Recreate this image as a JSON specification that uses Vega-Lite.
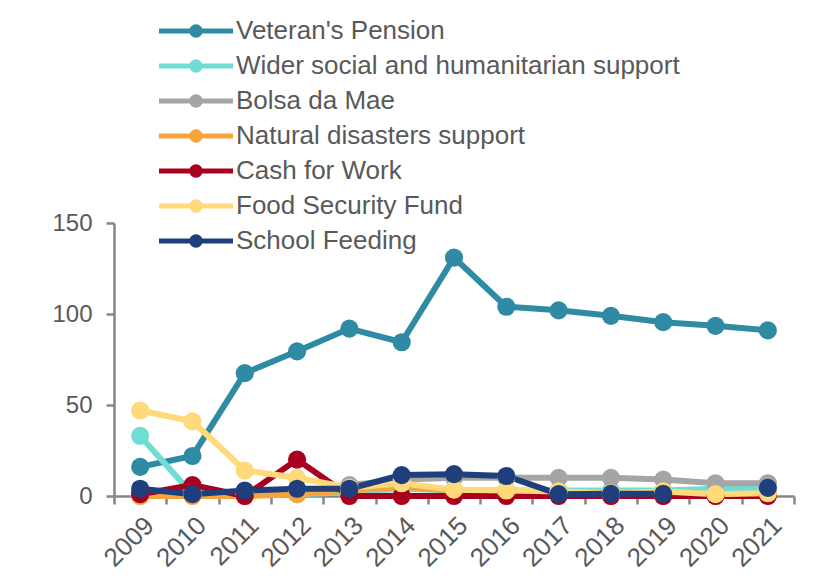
{
  "$schema": "https://vega.github.io/schema/vega-lite/v6.json",
  "width": 680,
  "height": 273,
  "autosize": "none",
  "padding": {"left": 114, "top": 223, "right": 19, "bottom": 82},
  "background": "white",
  "config": {
    "view": {"stroke": null},
    "font": "Liberation Sans"
  },
  "data": {
    "values": [
      {"year": "2009", "series": "Veteran's Pension", "value": 16},
      {"year": "2010", "series": "Veteran's Pension", "value": 22},
      {"year": "2011", "series": "Veteran's Pension", "value": 67.5},
      {"year": "2012", "series": "Veteran's Pension", "value": 79.5},
      {"year": "2013", "series": "Veteran's Pension", "value": 92},
      {"year": "2014", "series": "Veteran's Pension", "value": 84.5},
      {"year": "2015", "series": "Veteran's Pension", "value": 131},
      {"year": "2016", "series": "Veteran's Pension", "value": 104},
      {"year": "2017", "series": "Veteran's Pension", "value": 102},
      {"year": "2018", "series": "Veteran's Pension", "value": 99},
      {"year": "2019", "series": "Veteran's Pension", "value": 95.5},
      {"year": "2020", "series": "Veteran's Pension", "value": 93.5},
      {"year": "2021", "series": "Veteran's Pension", "value": 91},
      {"year": "2009", "series": "Wider social and humanitarian support", "value": 33},
      {"year": "2010", "series": "Wider social and humanitarian support", "value": 1},
      {"year": "2011", "series": "Wider social and humanitarian support", "value": 1},
      {"year": "2012", "series": "Wider social and humanitarian support", "value": 1},
      {"year": "2013", "series": "Wider social and humanitarian support", "value": 2},
      {"year": "2014", "series": "Wider social and humanitarian support", "value": 4},
      {"year": "2015", "series": "Wider social and humanitarian support", "value": 3},
      {"year": "2016", "series": "Wider social and humanitarian support", "value": 3},
      {"year": "2017", "series": "Wider social and humanitarian support", "value": 3},
      {"year": "2018", "series": "Wider social and humanitarian support", "value": 3},
      {"year": "2019", "series": "Wider social and humanitarian support", "value": 3},
      {"year": "2020", "series": "Wider social and humanitarian support", "value": 4},
      {"year": "2021", "series": "Wider social and humanitarian support", "value": 4},
      {"year": "2009", "series": "Bolsa da Mae", "value": 1},
      {"year": "2010", "series": "Bolsa da Mae", "value": 1},
      {"year": "2011", "series": "Bolsa da Mae", "value": 1},
      {"year": "2012", "series": "Bolsa da Mae", "value": 2},
      {"year": "2013", "series": "Bolsa da Mae", "value": 6},
      {"year": "2014", "series": "Bolsa da Mae", "value": 9},
      {"year": "2015", "series": "Bolsa da Mae", "value": 10},
      {"year": "2016", "series": "Bolsa da Mae", "value": 10},
      {"year": "2017", "series": "Bolsa da Mae", "value": 10},
      {"year": "2018", "series": "Bolsa da Mae", "value": 10},
      {"year": "2019", "series": "Bolsa da Mae", "value": 9},
      {"year": "2020", "series": "Bolsa da Mae", "value": 7},
      {"year": "2021", "series": "Bolsa da Mae", "value": 7},
      {"year": "2009", "series": "Natural disasters support", "value": 0},
      {"year": "2010", "series": "Natural disasters support", "value": 0},
      {"year": "2011", "series": "Natural disasters support", "value": 0},
      {"year": "2012", "series": "Natural disasters support", "value": 1},
      {"year": "2013", "series": "Natural disasters support", "value": 3},
      {"year": "2014", "series": "Natural disasters support", "value": 5},
      {"year": "2015", "series": "Natural disasters support", "value": 3},
      {"year": "2016", "series": "Natural disasters support", "value": 1},
      {"year": "2017", "series": "Natural disasters support", "value": 1},
      {"year": "2018", "series": "Natural disasters support", "value": 0},
      {"year": "2019", "series": "Natural disasters support", "value": 0},
      {"year": "2020", "series": "Natural disasters support", "value": 0},
      {"year": "2021", "series": "Natural disasters support", "value": 1},
      {"year": "2009", "series": "Cash for Work", "value": 1},
      {"year": "2010", "series": "Cash for Work", "value": 6},
      {"year": "2011", "series": "Cash for Work", "value": 0},
      {"year": "2012", "series": "Cash for Work", "value": 20},
      {"year": "2013", "series": "Cash for Work", "value": 0},
      {"year": "2014", "series": "Cash for Work", "value": 0},
      {"year": "2015", "series": "Cash for Work", "value": 0},
      {"year": "2016", "series": "Cash for Work", "value": 0},
      {"year": "2017", "series": "Cash for Work", "value": 0},
      {"year": "2018", "series": "Cash for Work", "value": 0},
      {"year": "2019", "series": "Cash for Work", "value": 0},
      {"year": "2020", "series": "Cash for Work", "value": 0},
      {"year": "2021", "series": "Cash for Work", "value": 0},
      {"year": "2009", "series": "Food Security Fund", "value": 47},
      {"year": "2010", "series": "Food Security Fund", "value": 41},
      {"year": "2011", "series": "Food Security Fund", "value": 14},
      {"year": "2012", "series": "Food Security Fund", "value": 10},
      {"year": "2013", "series": "Food Security Fund", "value": 4.5},
      {"year": "2014", "series": "Food Security Fund", "value": 7},
      {"year": "2015", "series": "Food Security Fund", "value": 3.5},
      {"year": "2016", "series": "Food Security Fund", "value": 3},
      {"year": "2017", "series": "Food Security Fund", "value": 2.5},
      {"year": "2018", "series": "Food Security Fund", "value": 1.5},
      {"year": "2019", "series": "Food Security Fund", "value": 2.5},
      {"year": "2020", "series": "Food Security Fund", "value": 1},
      {"year": "2021", "series": "Food Security Fund", "value": 1.5},
      {"year": "2009", "series": "School Feeding", "value": 4},
      {"year": "2010", "series": "School Feeding", "value": 1},
      {"year": "2011", "series": "School Feeding", "value": 3},
      {"year": "2012", "series": "School Feeding", "value": 4},
      {"year": "2013", "series": "School Feeding", "value": 4},
      {"year": "2014", "series": "School Feeding", "value": 11.5},
      {"year": "2015", "series": "School Feeding", "value": 12},
      {"year": "2016", "series": "School Feeding", "value": 11},
      {"year": "2017", "series": "School Feeding", "value": 1},
      {"year": "2018", "series": "School Feeding", "value": 1.2},
      {"year": "2019", "series": "School Feeding", "value": 1.2},
      {"year": "2020", "series": "School Feeding", "value": null},
      {"year": "2021", "series": "School Feeding", "value": 4.5}
    ]
  },
  "mark": {
    "type": "line",
    "strokeWidth": 6,
    "invalid": "break-paths-filter-domains",
    "point": {"filled": true, "size": 330, "opacity": 1}
  },
  "encoding": {
    "x": {
      "field": "year",
      "type": "ordinal",
      "scale": {"type": "band", "paddingInner": 0, "paddingOuter": 0},
      "axis": {
        "title": null,
        "labelAngle": -45,
        "labelFontSize": 26,
        "labelColor": "#595959",
        "labelPadding": 8,
        "tickBand": "extent",
        "tickSize": 8,
        "tickWidth": 2.5,
        "tickColor": "#868686",
        "domainColor": "#868686",
        "domainWidth": 2.5,
        "grid": false
      }
    },
    "y": {
      "field": "value",
      "type": "quantitative",
      "scale": {"domain": [0, 150], "nice": false},
      "axis": {
        "title": null,
        "values": [0, 50, 100, 150],
        "labelFontSize": 24,
        "labelColor": "#595959",
        "labelPadding": 14,
        "tickSize": 8,
        "tickWidth": 2.5,
        "tickColor": "#868686",
        "domainColor": "#868686",
        "domainWidth": 2.5,
        "grid": false
      }
    },
    "color": {
      "field": "series",
      "type": "nominal",
      "sort": null,
      "scale": {
        "domain": ["Veteran's Pension", "Wider social and humanitarian support", "Bolsa da Mae", "Natural disasters support", "Cash for Work", "Food Security Fund", "School Feeding"],
        "range": ["#2f8aa4", "#70ddd5", "#a5a5a5", "#f7a53a", "#a8001e", "#ffd97a", "#1f3e7c"]
      },
      "legend": {
        "title": null,
        "orient": "none",
        "legendX": 69,
        "legendY": -205,
        "padding": 0,
        "labelFontSize": 26,
        "labelColor": "#595959",
        "labelLimit": 700,
        "labelOffset": 27,
        "rowPadding": 9,
        "symbolType": "M-3,-0.21H3V0.21H-3Z M0.54,0A0.54,0.54,0,1,1,-0.54,0A0.54,0.54,0,1,1,0.54,0Z",
        "symbolSize": 608,
        "symbolStrokeWidth": 0,
        "encode": {
          "symbols": {"update": {"fill": {"scale": "color", "field": "value"}, "opacity": {"value": 1}, "strokeWidth": {"value": 0}}}
        }
      }
    }
  }
}
